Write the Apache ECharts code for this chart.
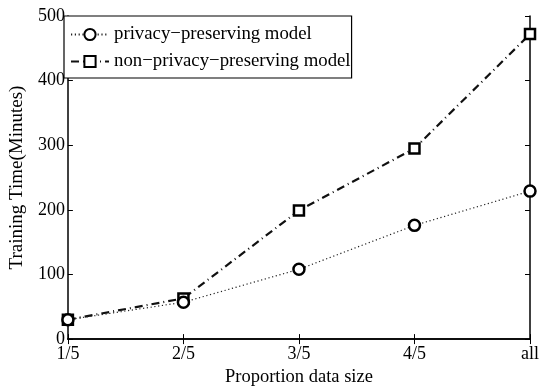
<!DOCTYPE html>
<html>
<head>
<meta charset="utf-8">
<script src="https://cdn.jsdelivr.net/npm/echarts@6/dist/echarts.min.js"></script>
<style>
html,body{margin:0;padding:0;background:#fff;}
#chart{width:542px;height:392px;}
</style>
</head>
<body>
<div id="chart"></div>
<script>
const categories = ['1/5', '2/5', '3/5', '4/5', 'all'];
const privacyValues = [30, 57, 108, 176, 229];
const nonPrivacyValues = [30, 63, 199, 295, 472];
const yTicks = [0, 100, 200, 300, 400, 500];
const seriesNames = ['privacy\u2212preserving model', 'non\u2212privacy\u2212preserving model'];
const xAxisTitle = 'Proportion data size';
const yAxisTitle = 'Training Time(Minutes)';

const FONT = 'Liberation Serif';
const chart = echarts.init(document.getElementById('chart'), null, {renderer: 'canvas'});

const axisCommon = {
  axisLine: {show: true, lineStyle: {color: '#000', width: 1.5}},
  axisTick: {show: true, inside: true, length: 5, lineStyle: {color: '#000', width: 1}},
  splitLine: {show: false}
};

chart.setOption({
  backgroundColor: '#fff',
  animation: false,
  textStyle: {fontFamily: FONT, color: '#000'},
  grid: {left: 64, right: 9, top: 16, bottom: 41, containLabel: false},
  legend: {
    show: true,
    orient: 'vertical',
    left: 64,
    top: 16,
    padding: [9, 1, 7, 6],
    itemGap: 8,
    itemWidth: 38,
    itemHeight: 14,
    backgroundColor: '#fff',
    borderColor: '#000',
    borderWidth: 1.2,
    textStyle: {fontFamily: FONT, fontSize: 18.8, color: '#000'},
    data: seriesNames
  },
  xAxis: [
    Object.assign({}, axisCommon, {
      type: 'category',
      data: categories,
      boundaryGap: false,
      position: 'bottom',
      name: xAxisTitle,
      nameLocation: 'middle',
      nameGap: 26,
      nameTextStyle: {fontFamily: FONT, fontSize: 18.5, color: '#000'},
      axisLabel: {fontFamily: FONT, fontSize: 18, color: '#000', margin: 6},
      axisTick: {show: true, inside: true, length: 5, alignWithLabel: true, lineStyle: {color: '#000'}}
    }),
    Object.assign({}, axisCommon, {
      type: 'category',
      data: categories,
      boundaryGap: false,
      position: 'top',
      axisLabel: {show: false},
      axisTick: {show: true, inside: true, length: 5, alignWithLabel: true, lineStyle: {color: '#000'}}
    })
  ],
  yAxis: [
    Object.assign({}, axisCommon, {
      type: 'value',
      min: yTicks[0],
      max: yTicks[yTicks.length - 1],
      interval: yTicks[1] - yTicks[0],
      position: 'left',
      name: yAxisTitle,
      nameLocation: 'middle',
      nameRotate: 90,
      nameGap: 37,
      nameTextStyle: {fontFamily: FONT, fontSize: 19, color: '#000'},
      axisLabel: {fontFamily: FONT, fontSize: 18, color: '#000', margin: 3}
    }),
    Object.assign({}, axisCommon, {
      type: 'value',
      min: yTicks[0],
      max: yTicks[yTicks.length - 1],
      interval: yTicks[1] - yTicks[0],
      position: 'right',
      axisLabel: {show: false}
    })
  ],
  series: [
    {
      name: seriesNames[0],
      type: 'line',
      data: privacyValues,
      xAxisIndex: 0,
      yAxisIndex: 0,
      symbol: 'circle',
      symbolSize: 11,
      showAllSymbol: true,
      lineStyle: {color: '#222', width: 1.2, type: [1.2, 2.6]},
      itemStyle: {color: '#fff', borderColor: '#000', borderWidth: 2.5},
      z: 3
    },
    {
      name: seriesNames[1],
      type: 'line',
      data: nonPrivacyValues,
      xAxisIndex: 0,
      yAxisIndex: 0,
      symbol: 'rect',
      symbolSize: 10,
      showAllSymbol: true,
      lineStyle: {color: '#111', width: 2.2, type: [8, 4, 1, 4]},
      itemStyle: {color: '#fff', borderColor: '#000', borderWidth: 2.5},
      z: 2
    }
  ]
});
</script>
</body>
</html>
